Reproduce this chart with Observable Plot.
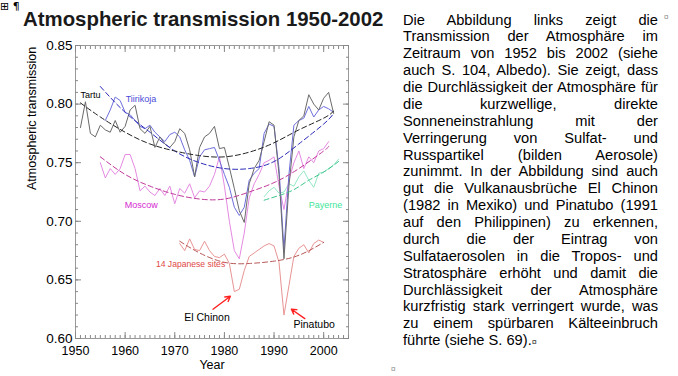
<!DOCTYPE html>
<html><head><meta charset="utf-8">
<script src="https://cdn.jsdelivr.net/npm/d3@7"></script>
<script src="https://cdn.jsdelivr.net/npm/@observablehq/plot@0.6"></script>
<style>
html,body{margin:0;padding:0;background:#fff;overflow:hidden;width:678px;height:376px}
#marks{position:absolute;left:0;top:0;font:11px "DejaVu Sans",sans-serif;color:#000}
#title{position:absolute;left:23px;top:9px;font:bold 20.4px/20px "Liberation Sans",Arial,sans-serif;color:#1a1a1a;white-space:nowrap}
#chart{position:absolute;left:0;top:0}
#para{position:absolute;left:403px;top:11.5px;width:255px;font:14.67px/16.87px "Liberation Sans",Arial,sans-serif;color:#000}
#para div{text-align:justify;text-align-last:justify;white-space:nowrap}
#para div.last{text-align-last:left}
.pm{font-size:9px;color:#333}
#pm1{position:absolute;left:664px;top:12px}
#pm2{position:absolute;left:391px;top:364px}
</style></head>
<body>
<div id="marks">⊞ ¶</div>
<div id="chart"></div>
<div id="title">Atmospheric transmission 1950-2002</div>
<div id="para"></div>
<span id="pm1" class="pm">¤</span>
<span id="pm2" class="pm">¤</span>
<script>
// ---- data ----
const tartuStart = 1951;
const tartuValues = [0.780,0.802,0.775,0.772,0.782,0.778,0.776,0.786,0.776,0.781,0.795,0.799,0.779,0.775,0.781,0.763,0.772,0.766,0.763,0.768,0.779,0.775,0.761,0.738,0.763,0.772,0.775,0.781,0.762,0.763,0.746,0.728,0.709,0.699,0.732,0.745,0.752,0.768,0.785,0.782,0.740,0.668,0.730,0.772,0.786,0.790,0.808,0.800,0.795,0.805,0.810,0.792];
const tiirikojaStart = 1956;
const tiirikojaValues = [0.786,0.795,0.806,0.803,0.793,0.791,0.786,0.781,0.779,0.782,0.776,0.772,0.768,0.774,0.776,0.772,0.761,0.752,0.738,0.755,0.761,0.762,0.763,0.752,0.740,0.729,0.712,0.705,0.712,0.735,0.741,0.745,0.775,0.783,0.781,0.745,0.676,0.740,0.782,0.786,0.788,0.798,0.789,0.795,0.798,0.796,0.793];
const moscowStart = 1955;
const moscowValues = [0.750,0.737,0.745,0.740,0.745,0.757,0.757,0.745,0.726,0.730,0.725,0.722,0.728,0.722,0.730,0.715,0.728,0.724,0.732,0.720,0.726,0.725,0.730,0.740,0.755,0.730,0.700,0.675,0.668,0.690,0.720,0.732,0.740,0.750,0.752,0.755,0.730,0.710,0.735,0.750,0.760,0.745,0.755,0.750,0.760,0.762,0.768];
const payerneStart = 1988;
const payerneValues = [0.721,0.726,0.729,0.724,0.725,0.732,0.730,0.738,0.743,0.735,0.729,0.741,0.742,0.745,0.748,0.753];
const japanStart = 1971;
const japanValues = [0.681,0.675,0.685,0.676,0.675,0.683,0.675,0.670,0.669,0.672,0.664,0.640,0.642,0.658,0.670,0.673,0.676,0.679,0.681,0.679,0.665,0.620,0.645,0.670,0.677,0.680,0.673,0.681,0.684,0.682];

// dashed trend curves, read at a few points
const tartuTrendYears = [1951,1955,1960,1965,1970,1975,1980,1985,1990,1995,2000,2002];
const tartuTrendValues = [0.801,0.789,0.776,0.766,0.760,0.756,0.755,0.759,0.767,0.778,0.788,0.794];
const tiirikojaTrendYears = [1955,1960,1965,1970,1975,1980,1985,1990,1995,2000,2002];
const tiirikojaTrendValues = [0.815,0.793,0.776,0.760,0.750,0.745,0.745,0.751,0.766,0.783,0.792];
const moscowTrendYears = [1955,1960,1965,1970,1975,1980,1985,1990,1995,2000,2001];
const moscowTrendValues = [0.755,0.740,0.730,0.723,0.719,0.719,0.725,0.733,0.745,0.760,0.764];
const payerneTrendYears = [1988,1991,1994,1997,2000,2003];
const payerneTrendValues = [0.718,0.722,0.727,0.735,0.742,0.751];
const japanTrendYears = [1971,1975,1980,1985,1990,1995,2000];
const japanTrendValues = [0.683,0.673,0.665,0.664,0.666,0.671,0.682];

const decadeTicks = [1950,1960,1970,1980,1990,2000];
const yearTicks = d3.range(1950, 2006);
const yMajorTicks = [0.60,0.65,0.70,0.75,0.80,0.85];
const yMinorTicks = d3.range(60, 86).map(d => d / 100);

const paragraphLines = [
  "Die Abbildung links zeigt die",
  "Transmission der Atmosphäre im",
  "Zeitraum von 1952 bis 2002 (siehe",
  "auch S. 104, Albedo). Sie zeigt, dass",
  "die Durchlässigkeit der Atmosphäre für",
  "die kurzwellige, direkte",
  "Sonneneinstrahlung mit der",
  "Verringerung von Sulfat- und",
  "Russpartikel (bilden Aerosole)",
  "zunimmt. In der Abbildung sind auch",
  "gut die Vulkanausbrüche El Chinon",
  "(1982 in Mexiko) und Pinatubo (1991",
  "auf den Philippinen) zu erkennen,",
  "durch die der Eintrag von",
  "Sulfataerosolen in die Tropos- und",
  "Stratosphäre erhöht und damit die",
  "Durchlässigkeit der Atmosphäre",
  "kurzfristig stark verringert wurde, was",
  "zu einem spürbaren Kälteeinbruch",
  "führte (siehe S. 69)."
];

// ---- build tables ----
const series = (start, vals) => vals.map((v, i) => ({year: start + i, value: v}));
const trend = (yrs, vals) => yrs.map((y, i) => ({year: y, value: vals[i]}));
const F = '"Liberation Sans", Arial, sans-serif';
const dash = "5,3";
const blank = () => "";

const chart = Plot.plot({
  width: 390, height: 376,
  marginTop: 45, marginBottom: 38, marginLeft: 75, marginRight: 42,
  style: {fontFamily: F, background: "transparent", color: "#000", overflow: "visible"},
  x: {domain: [1950, 2005]},
  y: {domain: [0.60, 0.85]},
  marks: [
    Plot.frame({stroke: "#999"}),
    Plot.axisX({anchor: "bottom", ticks: yearTicks, tickSize: -3, tickFormat: blank, label: null, stroke: "#888"}),
    Plot.axisX({anchor: "top", ticks: yearTicks, tickSize: -3, tickFormat: blank, label: null, stroke: "#888"}),
    Plot.axisX({anchor: "bottom", ticks: decadeTicks, tickSize: -6, tickFormat: blank, label: null, stroke: "#888"}),
    Plot.axisX({anchor: "top", ticks: decadeTicks, tickSize: -6, tickFormat: blank, label: null, stroke: "#888"}),
    Plot.axisX({anchor: "bottom", ticks: decadeTicks, tickSize: 0, tickPadding: 8, tickFormat: d => String(d), fontSize: 12.5, label: null}),
    Plot.axisY({anchor: "left", ticks: yMinorTicks, tickSize: -3, tickFormat: blank, label: null, stroke: "#888"}),
    Plot.axisY({anchor: "right", ticks: yMinorTicks, tickSize: -3, tickFormat: blank, label: null, stroke: "#888"}),
    Plot.axisY({anchor: "left", ticks: yMajorTicks, tickSize: -6, tickFormat: blank, label: null, stroke: "#888"}),
    Plot.axisY({anchor: "right", ticks: yMajorTicks, tickSize: -6, tickFormat: blank, label: null, stroke: "#888"}),
    Plot.axisY({anchor: "left", ticks: yMajorTicks, tickSize: 0, tickPadding: 3, tickFormat: d3.format(".2f"), fontSize: 13.5, label: null}),
    Plot.text(["Year"], {frameAnchor: "bottom", dy: 30.5, fontSize: 12.5}),
    Plot.text(["Atmospheric transmission"], {frameAnchor: "left", dx: -43.5, dy: -2, rotate: -90, fontSize: 12.5}),

    // data lines
    Plot.line(series(payerneStart, payerneValues), {x: "year", y: "value", stroke: "#92e8c6", strokeWidth: 1}),
    Plot.line(series(japanStart, japanValues), {x: "year", y: "value", stroke: "#e89494", strokeWidth: 1}),
    Plot.line(series(moscowStart, moscowValues), {x: "year", y: "value", stroke: "#e58ae2", strokeWidth: 1}),
    Plot.line(series(tiirikojaStart, tiirikojaValues), {x: "year", y: "value", stroke: "#6e6edc", strokeWidth: 1}),
    Plot.line(series(tartuStart, tartuValues), {x: "year", y: "value", stroke: "#6a6a6a", strokeWidth: 1}),

    // trend lines
    Plot.line(trend(payerneTrendYears, payerneTrendValues), {x: "year", y: "value", curve: "natural", stroke: "#3cc58a", strokeWidth: 1, strokeDasharray: dash}),
    Plot.line(trend(japanTrendYears, japanTrendValues), {x: "year", y: "value", curve: "natural", stroke: "#b65858", strokeWidth: 1, strokeDasharray: dash}),
    Plot.line(trend(moscowTrendYears, moscowTrendValues), {x: "year", y: "value", curve: "natural", stroke: "#c0399a", strokeWidth: 1, strokeDasharray: dash}),
    Plot.line(trend(tiirikojaTrendYears, tiirikojaTrendValues), {x: "year", y: "value", curve: "natural", stroke: "#2a2ab8", strokeWidth: 1, strokeDasharray: dash}),
    Plot.line(trend(tartuTrendYears, tartuTrendValues), {x: "year", y: "value", curve: "natural", stroke: "#222", strokeWidth: 1, strokeDasharray: dash}),

    // series labels
    Plot.text(["Tartu"], {x: 1951.0, y: 0.808, textAnchor: "start", fontSize: 9, fill: "#000"}),
    Plot.text(["Tiirikoja"], {x: 1960.1, y: 0.804, textAnchor: "start", fontSize: 9, fill: "#4a4ad8"}),
    Plot.text(["Moscow"], {x: 1959.9, y: 0.7135, textAnchor: "start", fontSize: 9, fill: "#d42ad0"}),
    Plot.text(["Payerne"], {x: 1997.0, y: 0.7135, textAnchor: "start", fontSize: 9, fill: "#3ee69a"}),
    Plot.text(["14 Japanese sites"], {x: 1966.2, y: 0.663, textAnchor: "start", fontSize: 8.6, fill: "#e04848"}),

    // volcano annotations
    Plot.arrow([{x1: 1977.7, y1: 0.625, x2: 1981.2, y2: 0.636}], {x1: "x1", y1: "y1", x2: "x2", y2: "y2", stroke: "#ff2020", strokeWidth: 1.4, headLength: 6}),
    Plot.arrow([{x1: 1996.2, y1: 0.617, x2: 1993.5, y2: 0.625}], {x1: "x1", y1: "y1", x2: "x2", y2: "y2", stroke: "#ff2020", strokeWidth: 1.4, headLength: 6}),
    Plot.text(["El Chinon"], {x: 1971.9, y: 0.618, textAnchor: "start", fontSize: 10.5, fill: "#000"}),
    Plot.text(["Pinatubo"], {x: 1993.9, y: 0.612, textAnchor: "start", fontSize: 10.5, fill: "#000"})
  ]
});
document.getElementById("chart").appendChild(chart);

const para = document.getElementById("para");
paragraphLines.forEach((t, i) => {
  const d = document.createElement("div");
  d.textContent = t;
  if (i === paragraphLines.length - 1) {
    d.className = "last";
    const s = document.createElement("span");
    s.className = "pm";
    s.textContent = "¤";
    d.appendChild(s);
  }
  para.appendChild(d);
});
</script>
</body></html>
